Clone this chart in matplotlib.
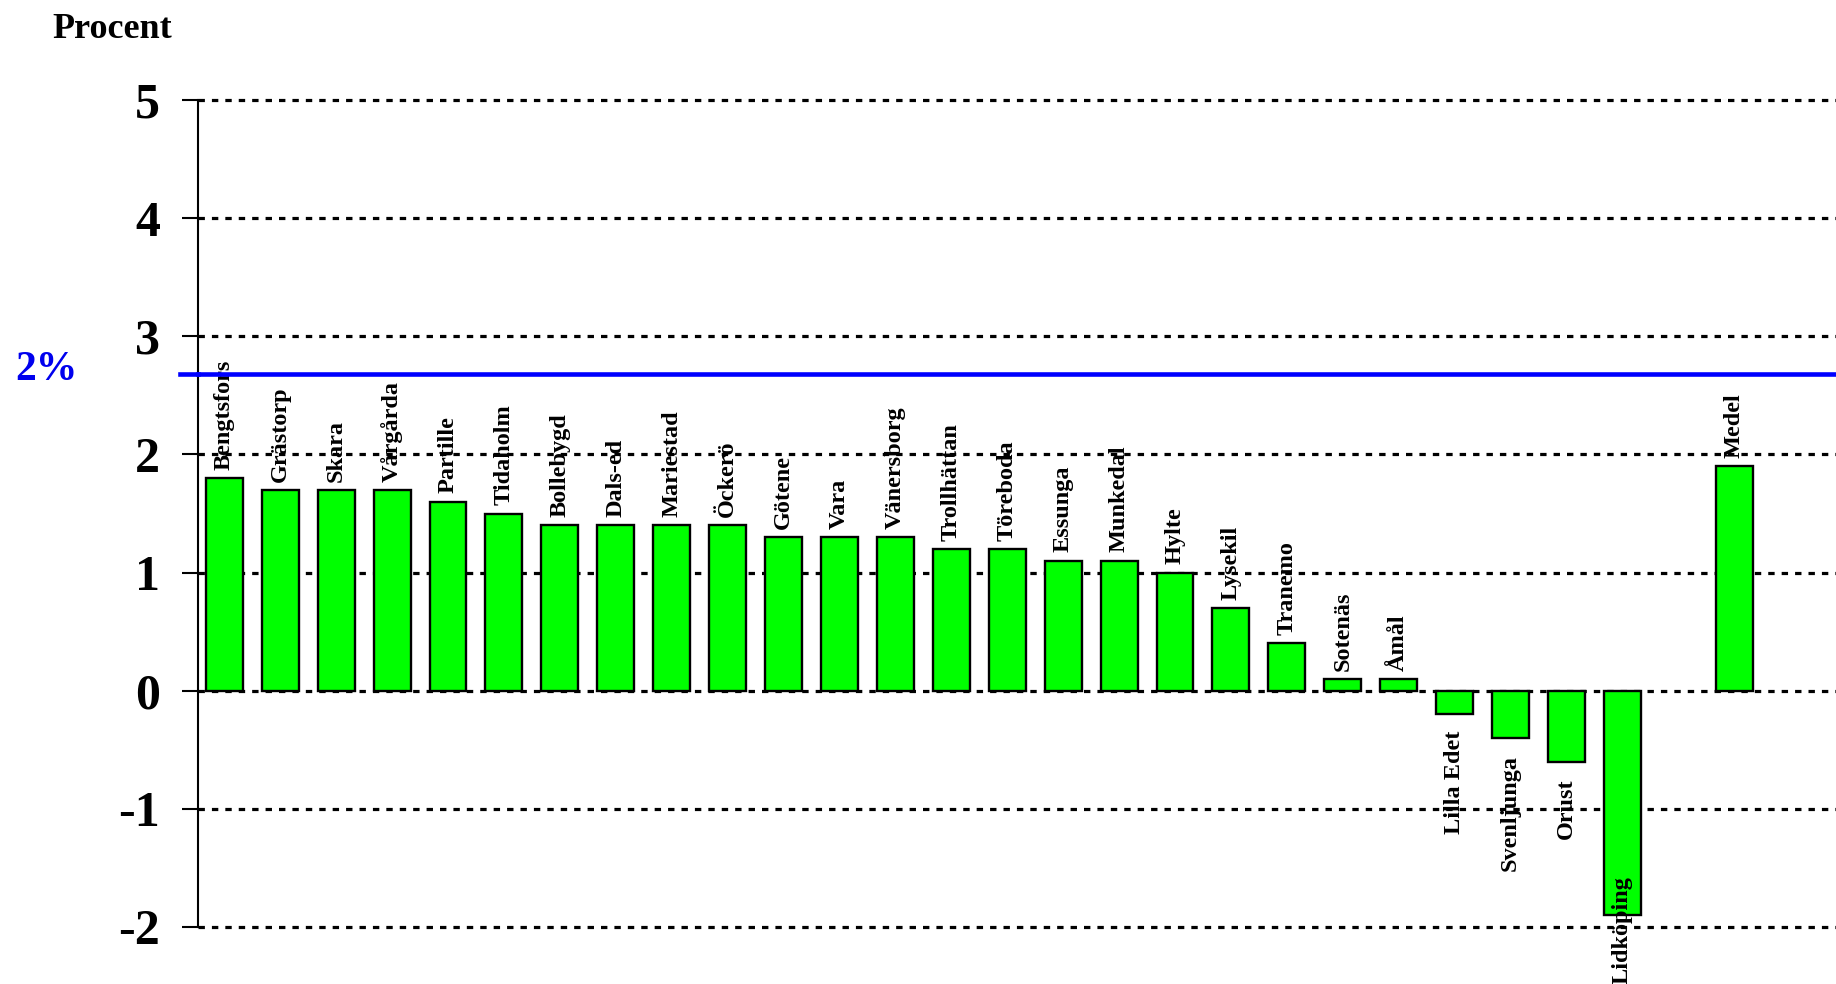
import matplotlib
matplotlib.use("Agg")
import matplotlib.pyplot as plt
import numpy as np

categories = ["Bengtsfors", "Grästorp", "Skara", "Vårgårda", "Partille", "Tidaholm",
              "Bollebygd", "Dals-ed", "Mariestad", "Öckerö", "Götene", "Vara",
              "Vänersborg", "Trollhättan", "Töreboda", "Essunga", "Munkedal", "Hylte",
              "Lysekil", "Tranemo", "Sotenäs", "Åmål", "Lilla Edet", "Svenljunga",
              "Orust", "Lidköping", "Medel"]
values = [1.8, 1.7, 1.7, 1.7, 1.6, 1.5, 1.4, 1.4, 1.4, 1.4, 1.3, 1.3, 1.3, 1.2, 1.2,
          1.1, 1.1, 1.0, 0.7, 0.4, 0.1, 0.1, -0.2, -0.4, -0.6, -1.9, 1.9]
yticks = [-2, -1, 0, 1, 2, 3, 4, 5]
ref_value = 2.68
ref_label = "2%"
ylabel = "Procent"

plt.rcParams['font.family'] = ['Liberation Serif', 'DejaVu Serif']
plt.rcParams['font.weight'] = 'bold'

fig = plt.figure(figsize=(18.36, 9.84), dpi=100)
ax = fig.add_axes([198/1836, 1-927/984, 1-198/1836, (927-100)/984])

# positions: leave one empty slot before the average bar
pos = list(range(len(categories) - 1)) + [len(categories)]

for y in yticks:
    ax.axhline(y, color='black', lw=2.3, linestyle=(0, (2.0, 2.2)), zorder=1, clip_on=False)

ax.bar(pos, values, width=0.66, color='#00ff00', edgecolor='black', linewidth=1.7, zorder=2)

ax.axhline(ref_value, color='#0000ff', lw=3.3, zorder=5, clip_on=False)
ax.plot([-0.8, -0.47], [ref_value, ref_value], color='#0000ff', lw=3.3, zorder=5, clip_on=False)

for p, v, c in zip(pos, values, categories):
    if v >= 0:
        ax.annotate(c, xy=(p, v), xytext=(0, 6), textcoords='offset points',
                    rotation=90, ha='center', va='bottom', fontsize=17.5,
                    fontweight='bold', zorder=4, annotation_clip=False)
    elif v > -1.5:
        ax.annotate(c, xy=(p, v), xytext=(0, -12), textcoords='offset points',
                    rotation=90, ha='center', va='top', fontsize=17.5,
                    fontweight='bold', zorder=4, annotation_clip=False)
    else:
        ax.annotate(c, xy=(p, 0), xycoords=('data', 'figure fraction'),
                    rotation=90, ha='center', va='bottom', fontsize=17.5,
                    fontweight='bold', zorder=4, annotation_clip=False)

ax.set_xlim(-0.47, 28.82)
ax.set_ylim(-2, 5)
ax.set_yticks(yticks)
ax.set_yticklabels([str(t) for t in yticks], fontsize=36, fontweight='bold')
ax.tick_params(axis='y', length=11.5, width=1.5, pad=16, direction='out')
ax.set_xticks([])
for s in ['top', 'right', 'bottom']:
    ax.spines[s].set_visible(False)
ax.spines['left'].set_linewidth(1.5)

fig.text(52/1836, 1-38/984, ylabel, fontsize=26, fontweight='bold', va='baseline', ha='left')
fig.text(15/1836, 1-380/984, ref_label, fontsize=30, fontweight='bold', color='#0000ee',
         va='baseline', ha='left')

fig.savefig("out.png", dpi=100)
